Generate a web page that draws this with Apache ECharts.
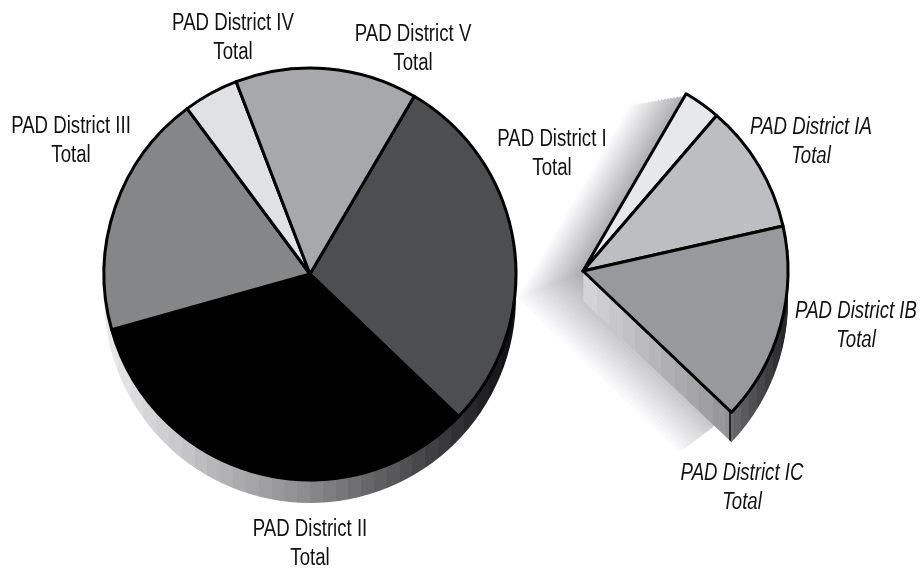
<!DOCTYPE html>
<html><head><meta charset="utf-8">
<style>html,body{margin:0;padding:0;background:#fff}#c{width:920px;height:569px}</style>
<script src="https://cdn.jsdelivr.net/npm/echarts@6/dist/echarts.min.js"></script>
</head><body><div id="c"></div>
<script>
// data (degrees of pie)
const mainNames = ['PAD District I\nTotal','PAD District II\nTotal','PAD District III\nTotal','PAD District IV\nTotal','PAD District V\nTotal'];
const mainValues = [103.4,120.5,69.1,15.6,51.4];
const mainColors = ['#4d4e50','#000000','#848688','#e0e1e3','#a6a8ab'];
const detailNames = ['','PAD District IA\nTotal','PAD District IB\nTotal'];
const detailValues = [10.5,36.6,56.3];
const detailColors = ['#e7e8ea','#bcbec1','#98999c'];
const extraLabel = 'PAD District IC\nTotal';
const mainLabelPos = [[552,154],[310,544],[71,141],[233,38],[413,49]];
const detailLabelPos = [null,[811,142],[856,326]];
const extraLabelPos = [742,488];

const font = '"Liberation Sans",Arial,sans-serif';
const total = detailValues.reduce((a,b)=>a+b,0);
const wedgeStart = 59.8, wedgeEnd = wedgeStart-total;

function bands(x0,x1,colorAt,n){
  const stops=[];
  for(let i=0;i<n;i++){const c=colorAt(i/(n-1));stops.push({offset:i/n,color:c},{offset:(i+1)/n,color:c});}
  return {type:'linear',x:x0,y:0,x2:x1,y2:0,global:true,colorStops:stops};
}
function grey(v){v=Math.round(v);return `rgb(${v},${v},${v+2})`;}
function mix(a,b,t){return a+(b-a)*t;}

const base={type:'pie',animation:false,silent:true,avoidLabelOverlap:false,clockwise:true,label:{show:false},labelLine:{show:false},emphasis:{disabled:true}};
const series=[];

// main pie depth
series.push({...base,center:[310,297],radius:[0,206],startAngle:90,
  data:[{value:mainValues.reduce((a,b)=>a+b,0),itemStyle:{color:bands(105,515,t=>grey(t<.5?mix(232,138,t*2):mix(138,18,(t-.5)*2)),32)}}]});

// main pie
series.push({...base,center:[310,274],radius:[0,206],startAngle:59.6,
  data:mainValues.map((v,i)=>({value:v,name:mainNames[i],itemStyle:{color:mainColors[i]}})),
  itemStyle:{borderColor:'#000',borderWidth:3,borderJoin:'round'}
});

// fading blend behind the exploded wedge
const steps=18;
for(let i=steps;i>=1;i--){
  const t=i/steps;
  series.push({...base,center:[583-65*t,272+26*t],radius:[0,205+19*t],startAngle:wedgeStart,endAngle:wedgeEnd,
    data:[{value:total,itemStyle:{color:grey(mix(170,250,t))}}]});
}
// wedge depth (stacked copies form the extruded side)
const depthFill=bands(583,793,t=>{
  const x=583+t*210;
  if(x<730) return grey(mix(212,145,Math.floor((x-583)/13)*13/147));
  if(x<732) return '#222';
  return grey(mix(100,28,Math.floor((x-733)/8)*8/57));
},105);
for(let d=30;d>=2;d-=2){
  series.push({...base,center:[583,271+d],radius:[0,205],startAngle:wedgeStart,endAngle:wedgeEnd,
    data:[{value:total,itemStyle:{color:depthFill}}]});
}

// exploded wedge
series.push({...base,center:[583,271],radius:[0,205],startAngle:wedgeStart,endAngle:wedgeEnd,
  data:detailValues.map((v,i)=>({value:v,name:detailNames[i],itemStyle:{color:detailColors[i]}})),
  itemStyle:{borderColor:'#000',borderWidth:3,borderJoin:'round'}
});

function label(text,pos,italic){
  return {type:'text',x:pos[0],y:pos[1],scaleX:0.81,z:100,silent:true,
    style:{text,font:(italic?'italic ':'')+'23px '+font,fill:'#111',align:'center',verticalAlign:'middle',lineHeight:29}};
}
const graphic=[];
mainNames.forEach((n,i)=>graphic.push(label(n,mainLabelPos[i],false)));
detailNames.forEach((n,i)=>{if(n)graphic.push(label(n,detailLabelPos[i],true));});
graphic.push(label(extraLabel,extraLabelPos,true));

const chart=echarts.init(document.getElementById('c'),null,{renderer:'canvas'});
chart.setOption({backgroundColor:'#fff',series,graphic});
</script></body></html>
